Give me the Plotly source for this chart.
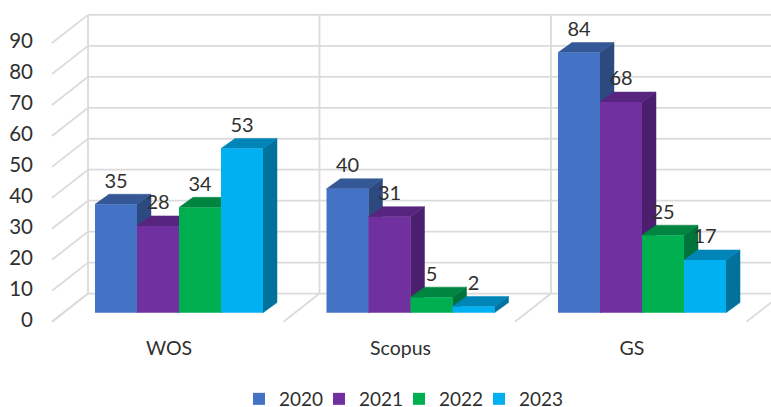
import plotly.graph_objects as go

categories = ["WOS", "Scopus", "GS"]
years = ["2020", "2021", "2022", "2023"]
v2020 = [35, 40, 84]
v2021 = [28, 31, 68]
v2022 = [34, 5, 25]
v2023 = [53, 2, 17]
series_values = [v2020, v2021, v2022, v2023]
y_ticks = [0, 10, 20, 30, 40, 50, 60, 70, 80, 90]

front_colors = ["#4472C4", "#7030A0", "#00B050", "#00B0F0"]
top_colors = ["#335895", "#57257F", "#008540", "#0085B8"]
side_colors = ["#2C4A80", "#4B1F6E", "#00733A", "#00729C"]
GRID = "#DBDBDB"
TEXT = "#303030"
FONT = "Lato"

W, H = 771, 407
L, R, T, B = 50, 0, 5, 83
LEGEND_TOP = 380
HP = 373            # the legend reserves the space below this height
PLOT_BOTTOM = H - B
PX_CAT = 231.5      # pixels per category band
PX_UNIT = 3.08      # pixels per value unit
X0_PX = 179         # pixel position of category 0 in the bar plane
BASE_PX = 311       # pixel position of value 0 in the bar plane
FRONT_BASE_PX = 320
BAR_W = 42 / PX_CAT
GAP = (PX_CAT - 4 * 42) / PX_CAT

def dx(px):
    return px / PX_CAT

def dy(px):
    return px / PX_UNIT

x_range = [(L - X0_PX) / PX_CAT, (W - R - X0_PX) / PX_CAT]
y_range = [(BASE_PX - PLOT_BOTTOM) / PX_UNIT, (BASE_PX - T) / PX_UNIT]
y2_range = [(FRONT_BASE_PX - PLOT_BOTTOM) / PX_UNIT, (FRONT_BASE_PX - T) / PX_UNIT]
x_domain = [L / W, 1 - R / W]
y_domain = [(HP - PLOT_BOTTOM) / HP, 1 - T / HP]

# depth of the floor, relative to the bar plane, in pixels
FRONT = (-11.25, -9)
BACK = (24.75, 19)
BAR_DEPTH = (14, 10)

fig = go.Figure()

def line(xs, ys):
    fig.add_trace(go.Scatter(x=xs, y=ys, mode="lines", showlegend=False, hoverinfo="skip",
                             line=dict(color=GRID, width=1.8), xaxis="x", yaxis="y"))

def poly(xs, ys, color):
    fig.add_trace(go.Scatter(x=xs, y=ys, mode="lines", fill="toself", fillcolor=color,
                             line=dict(color=color, width=0.5), showlegend=False,
                             hoverinfo="skip", xaxis="x", yaxis="y"))

left_edge = -0.5
right_edge = len(categories) - 0.5
for v in y_ticks:
    # back wall
    line([left_edge + dx(BACK[0]), right_edge + dx(BACK[0])], [v + dy(BACK[1])] * 2)
    # side wall
    line([left_edge + dx(FRONT[0]), left_edge + dx(BACK[0])], [v + dy(FRONT[1]), v + dy(BACK[1])])
for i in range(len(categories) + 1):
    edge = left_edge + i
    line([edge + dx(BACK[0])] * 2, [dy(BACK[1]), y_ticks[-1] + dy(BACK[1])])
    line([edge + dx(FRONT[0]), edge + dx(BACK[0])], [dy(FRONT[1]), dy(BACK[1])])

# side and top faces, derived from the values
for c in range(len(categories)):
    for s, vals in enumerate(series_values):
        v = vals[c]
        x0 = c + (s - 2) * BAR_W
        x1 = x0 + BAR_W
        ddx, ddy = dx(BAR_DEPTH[0]), dy(BAR_DEPTH[1])
        poly([x1, x1, x1 + ddx, x1 + ddx, x1], [0, v, v + ddy, ddy, 0], side_colors[s])
        poly([x0, x1, x1 + ddx, x0 + ddx, x0], [v, v, v + ddy, v + ddy, v], top_colors[s])

# front faces
for s, vals in enumerate(series_values):
    fig.add_trace(go.Bar(x=list(range(len(categories))), y=vals, name=years[s],
                         marker=dict(color=front_colors[s], line=dict(width=0)),
                         legendwidth=35 if s < len(years) - 1 else 50,
                         xaxis="x", yaxis="y3", hoverinfo="skip"))

# data labels
lab_x, lab_y, lab_t = [], [], []
for c in range(len(categories)):
    for s, vals in enumerate(series_values):
        lab_x.append(c + (s - 1.5) * BAR_W)
        lab_y.append(vals[c] + dy(21.5))
        lab_t.append(str(vals[c]))
fig.add_trace(go.Scatter(x=lab_x, y=lab_y, text=lab_t, mode="text", textposition="middle center",
                         textfont=dict(family=FONT, size=20, color=TEXT), showlegend=False,
                         hoverinfo="skip", xaxis="x", yaxis="y3", cliponaxis=False))

# invisible trace that activates the tick-label axis
fig.add_trace(go.Scatter(x=[0], y=[0], mode="markers", marker=dict(opacity=0), showlegend=False,
                         hoverinfo="skip", xaxis="x", yaxis="y2"))

fig.update_layout(
    width=W, height=H, autosize=False,
    margin=dict(l=0, r=0, t=0, b=0),
    paper_bgcolor="white", plot_bgcolor="white",
    barmode="group", bargap=GAP, bargroupgap=0,
    font=dict(family=FONT, size=20, color=TEXT),
    showlegend=True,
    legend=dict(orientation="h", x=239 / W, xref="paper", y=(H - LEGEND_TOP) / H, yref="container",
                xanchor="left", yanchor="top", itemclick=False, itemdoubleclick=False,
                font=dict(family=FONT, size=19, color=TEXT), traceorder="normal",
                bgcolor="rgba(0,0,0,0)"),
    xaxis=dict(domain=x_domain, range=x_range, tickmode="array", tickvals=[0, 1, 2],
               ticktext=categories, showgrid=False, zeroline=False, showline=False, ticks="",
               ticklabelshift=-10, ticklabelstandoff=9,
               tickfont=dict(family=FONT, size=19.5, color=TEXT)),
    yaxis=dict(domain=y_domain, range=y_range, visible=False, showgrid=False, zeroline=False),
    yaxis2=dict(range=y2_range, overlaying="y", side="left", tickmode="array", tickvals=y_ticks,
                showgrid=False, zeroline=False, showline=False, ticks="", ticklabelstandoff=16,
                ticklabelshift=-2, tickfont=dict(family=FONT, size=20.5, color=TEXT)),
    yaxis3=dict(range=y_range, overlaying="y", visible=False, showgrid=False, zeroline=False),
)

fig.write_html("out.html", config=dict(displayModeBar=False),
               post_script="document.body.style.margin='0';")
